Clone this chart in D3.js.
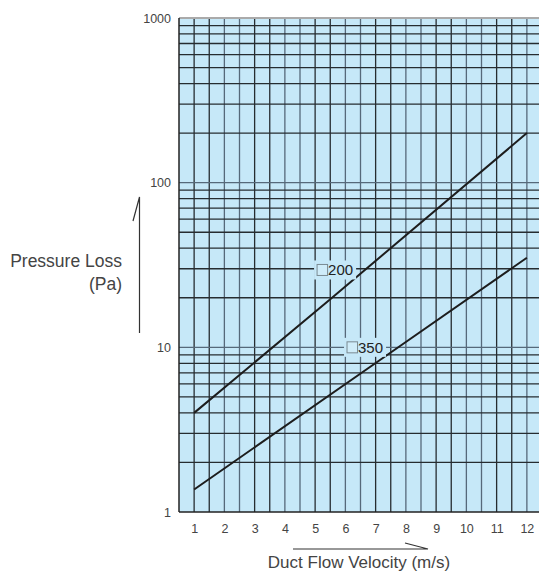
<!DOCTYPE html>
<html>
<head>
<meta charset="utf-8">
<script src="https://cdn.jsdelivr.net/npm/d3@7"></script>
<style>
  body { margin: 0; background: #fff; }
  svg { display: block; font-family: "Liberation Sans", Arial, sans-serif; }
</style>
</head>
<body>
<svg id="chart" width="539" height="573"></svg>
<script>
// duct flow velocity (m/s) at the points read for each curve
const velocity200 = [1, 5.5, 12];
const velocity350 = [1, 7.5, 12];
// pressure loss (Pa) for each duct size
const loss200 = [4, 19.6, 200];
const loss350 = [1.37, 9.3, 35];
const seriesNames = ["200", "350"];
const xTickValues = [1, 2, 3, 4, 5, 6, 7, 8, 9, 10, 11, 12];
const yTickValues = [1, 10, 100, 1000];
// where the size tags sit, in data units
const tagAt = [[5.66, 29.5], [6.65, 10]];

(function () {
let plotLeft = 179, plotTop = 18, plotBottom = 512, plotRight = 542;

let svg = d3.select("#chart");

let xScale = d3.scaleLinear().domain([0.5, 12.5]).range([plotLeft, plotRight]);
let yScale = d3.scaleLog().domain([1, 1000]).range([plotBottom, plotTop]);

let plot = svg.append("g");

plot.append("defs").append("clipPath").attr("id", "clip")
    .append("rect").attr("x", plotLeft).attr("y", plotTop)
    .attr("width", plotRight - plotLeft).attr("height", plotBottom - plotTop);

// blue background
plot.append("rect")
    .attr("x", plotLeft).attr("y", plotTop)
    .attr("width", plotRight - plotLeft).attr("height", plotBottom - plotTop)
    .attr("fill", "#c6e8f8");

let grid = plot.append("g").attr("clip-path", "url(#clip)");

// vertical grid every half unit
grid.selectAll("line.v")
    .data(d3.range(1, 12.6, 0.5))
    .enter().append("line")
    .attr("class", "v")
    .attr("x1", d => xScale(d)).attr("x2", d => xScale(d))
    .attr("y1", plotTop).attr("y2", plotBottom)
    .attr("stroke", (d, i) => i % 4 < 2 ? "#262c30" : "#56697a")
    .attr("stroke-width", 1.3);

// horizontal log grid
grid.selectAll("line.h")
    .data(yScale.ticks().filter(d => d > 1 && d < 1000))
    .enter().append("line")
    .attr("class", "h")
    .attr("x1", plotLeft).attr("x2", plotRight)
    .attr("y1", d => yScale(d)).attr("y2", d => yScale(d))
    .attr("stroke", d => (Math.log10(d) % 1 === 0) ? "#56697a" : "#262c30")
    .attr("stroke-width", 1.3);

// frame
plot.append("line").attr("x1", plotLeft).attr("x2", plotRight).attr("y1", plotTop).attr("y2", plotTop)
    .attr("stroke", "#aaaaaa").attr("stroke-width", 2);
plot.append("line").attr("x1", plotLeft).attr("x2", plotRight).attr("y1", plotBottom).attr("y2", plotBottom)
    .attr("stroke", "#222").attr("stroke-width", 1.5);
plot.append("line").attr("x1", plotLeft).attr("x2", plotLeft).attr("y1", plotTop).attr("y2", plotBottom)
    .attr("stroke", "#222").attr("stroke-width", 1.5);

// curves
let line = d3.line()
    .x(d => xScale(d[0]))
    .y(d => yScale(d[1]));

let curves = [d3.zip(velocity200, loss200), d3.zip(velocity350, loss350)];
plot.append("g").selectAll("path")
    .data(curves)
    .enter().append("path")
    .attr("d", d => line(d))
    .attr("fill", "none")
    .attr("stroke", "#1d1d1d")
    .attr("stroke-width", 2);

// size tags
let tags = plot.append("g").selectAll("g")
    .data(seriesNames)
    .enter().append("g")
    .attr("transform", (d, i) => "translate(" + xScale(tagAt[i][0]) + "," + yScale(tagAt[i][1]) + ")");

tags.each(function (d) {
    let g = d3.select(this);
    let bg = g.append("rect");
    let txt = g.append("text")
        .attr("y", 5.5)
        .attr("font-size", 15)
        .attr("fill", "#222")
        .text(d);
    let w = txt.node().getComputedTextLength();
    let total = 11 + w;
    txt.attr("x", -total / 2 + 11);
    g.append("rect")
        .attr("x", -total / 2).attr("y", -5.5)
        .attr("width", 10.5).attr("height", 11)
        .attr("fill", "#cfecf9").attr("stroke", "#7a8a92").attr("stroke-width", 1);
    bg.attr("x", -total / 2 - 3).attr("y", -9.5)
        .attr("width", total + 6).attr("height", 19)
        .attr("fill", "#c6e8f8");
});

// axes
let yAxis = d3.axisLeft(yScale).tickValues(yTickValues).tickSize(0).tickPadding(8)
    .tickFormat(d3.format("d"));
svg.append("g")
    .attr("transform", "translate(" + plotLeft + ",0)")
    .call(yAxis)
    .call(g => g.select(".domain").remove())
    .selectAll("text")
    .attr("font-size", 12.5).attr("fill", "#444")
    .attr("font-family", "Liberation Sans, Arial, sans-serif");

let xAxis = d3.axisBottom(xScale).tickValues(xTickValues).tickSize(0).tickPadding(12);
svg.append("g")
    .attr("transform", "translate(0," + plotBottom + ")")
    .call(xAxis)
    .call(g => g.select(".domain").remove())
    .selectAll("text")
    .attr("font-size", 12.5).attr("fill", "#444")
    .attr("font-family", "Liberation Sans, Arial, sans-serif");

// axis titles with arrows
svg.append("text")
    .attr("x", 359).attr("y", 568)
    .attr("text-anchor", "middle")
    .attr("font-size", 17).attr("fill", "#444")
    .text("Duct Flow Velocity (m/s)");
svg.append("path")
    .attr("d", "M293,549H428L405,543")
    .attr("fill", "none").attr("stroke", "#333").attr("stroke-width", 1.2);

svg.append("text")
    .attr("x", 122).attr("y", 267)
    .attr("text-anchor", "end")
    .attr("font-size", 17.5).attr("fill", "#444")
    .text("Pressure Loss");
svg.append("text")
    .attr("x", 122).attr("y", 290)
    .attr("text-anchor", "end")
    .attr("font-size", 17.5).attr("fill", "#444")
    .text("(Pa)");
svg.append("path")
    .attr("d", "M139.5,333V197L133,221")
    .attr("fill", "none").attr("stroke", "#333").attr("stroke-width", 1.2);
})();
</script>
</body>
</html>
